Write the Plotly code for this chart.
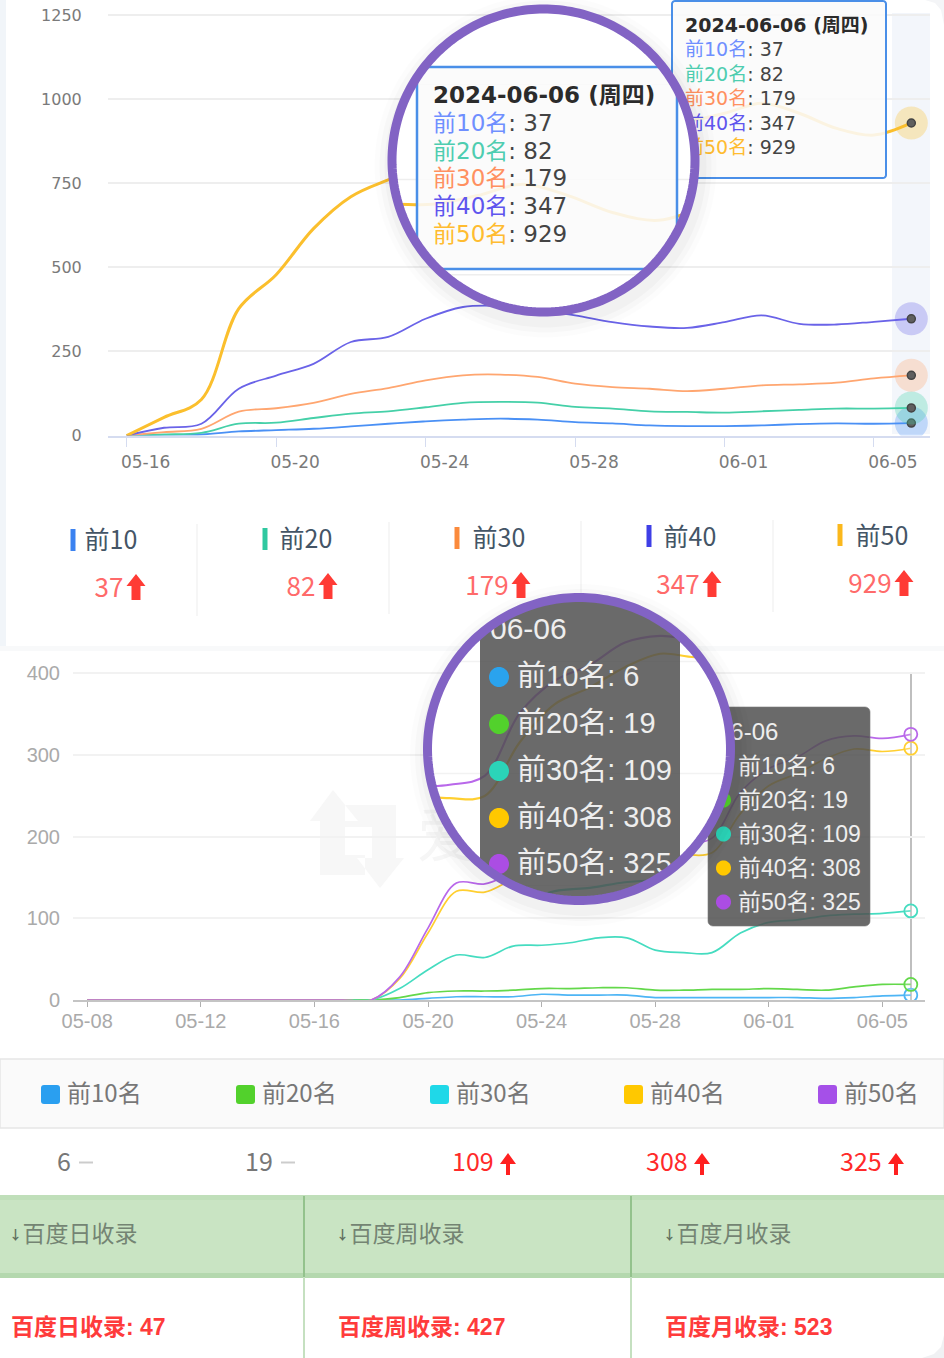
import math
import plotly.graph_objects as go

W, H = 944, 1358

# ---------- data, top chart ----------
top_dates = ["05-16","05-17","05-18","05-19","05-20","05-21","05-22","05-23","05-24","05-25","05-26",
             "05-27","05-28","05-29","05-30","05-31","06-01","06-02","06-03","06-04","06-05","06-06"]
top10 = [0, 2, 3, 12, 16, 20, 27, 35, 42, 47, 50, 47, 40, 36, 30, 28, 28, 30, 34, 36, 35, 37]
top20 = [0, 3, 8, 35, 38, 52, 65, 72, 84, 97, 100, 98, 85, 80, 72, 70, 68, 72, 76, 80, 80, 82]
top30 = [0, 10, 20, 71, 81, 97, 124, 141, 164, 179, 181, 174, 154, 144, 139, 132, 139, 149, 152, 157, 170, 179]
top40 = [0, 23, 35, 139, 178, 213, 278, 293, 347, 382, 385, 372, 357, 337, 324, 320, 337, 357, 332, 330, 338, 347]
top50 = [0, 54, 107, 377, 478, 615, 710, 760, 800, 830, 860, 890, 900, 920, 935, 935, 958, 988, 958, 913, 893, 929]
top_ticks = ["05-16", "05-20", "05-24", "05-28", "06-01", "06-05"]
top_yticks = [0, 250, 500, 750, 1000, 1250]
top_names = ["前10名", "前20名", "前30名", "前40名", "前50名"]
top_colors = ["#4a90f5", "#45d0a8", "#ffa670", "#6a63e8", "#fbbf2d"]
top_text_colors = ["#6f8fff", "#4ecdb0", "#ff9060", "#5f55ee", "#ffbc30"]
top_last = [37, 82, 179, 347, 929]
top_legend = ["前10", "前20", "前30", "前40", "前50"]
tip_title_top = "2024-06-06 (周四)"

# ---------- data, lower chart ----------
low_dates = ["05-08","05-09","05-10","05-11","05-12","05-13","05-14","05-15","05-16","05-17","05-18",
             "05-19","05-20","05-21","05-22","05-23","05-24","05-25","05-26","05-27","05-28","05-29",
             "05-30","05-31","06-01","06-02","06-03","06-04","06-05","06-06"]
low10 = [0,0,0,0,0,0,0,0,0,0,0, 0, 2, 4, 4, 4, 7, 6, 6, 6, 3, 3, 3, 3, 3, 3, 2, 3, 5, 6]
low20 = [0,0,0,0,0,0,0,0,0,0,0, 3, 9, 11, 11, 12, 14, 14, 15, 15, 12, 12, 13, 13, 14, 13, 12, 16, 19, 19]
low30 = [0,0,0,0,0,0,0,0,0,0,0, 14, 37, 55, 52, 66, 67, 70, 76, 76, 61, 58, 58, 82, 95, 98, 103, 105, 106, 109]
low40 = [0,0,0,0,0,0,0,0,0,0,0, 26, 82, 133, 132, 148, 160, 168, 175, 178, 180, 178, 180, 228, 262, 277, 295, 307, 304, 308]
low50 = [0,0,0,0,0,0,0,0,0,0,0, 28, 88, 143, 142, 155, 165, 172, 180, 186, 188, 190, 198, 254, 283, 297, 317, 323, 320, 325]
low_ticks = ["05-08", "05-12", "05-16", "05-20", "05-24", "05-28", "06-01", "06-05"]
low_yticks = [0, 100, 200, 300, 400]
low_colors = ["#4db5f5", "#63d84a", "#45dcc0", "#ffcf30", "#b968ea"]
low_dot_colors = ["#2aa3ee", "#52d12c", "#2bd4b8", "#ffc800", "#ab4de3"]
low_names = ["前10名", "前20名", "前30名", "前40名", "前50名"]
low_last = [6, 19, 109, 308, 325]
low_swatch = ["#2a9ff0", "#52d12c", "#1fd8e8", "#ffc800", "#a550e8"]
tip_title_low = "06-06"

# ---------- data, table ----------
table_heads = ["↓百度日收录", "↓百度周收录", "↓百度月收录"]
table_cells = ["百度日收录: 47", "百度周收录: 427", "百度月收录: 523"]

CJK = "Noto Sans CJK SC"
NARROW = f"Liberation Sans Narrow, {CJK}"
DJ = f"DejaVu Sans, {CJK}"
LIB = f"Liberation Sans, {CJK}"

TOP_Y0, TOP_K = 435.5, 420.5 / 1250
LOW_Y0, LOW_K = 1000, 0.8175
TOP_YMAX, LOW_YMAX = 1255, 402


def px(x):
    return x / W


def py(y):
    return 1 - y / H


fig = go.Figure()
layout = dict(
    width=W, height=H, margin=dict(l=0, r=0, t=0, b=0, pad=0, autoexpand=False), showlegend=False, hovermode=False,
    paper_bgcolor="white", plot_bgcolor="rgba(0,0,0,0)",
)
shapes = []


def hidden_axes(n, xr, yr, xdom=(0, 1), ydom=(0, 1)):
    layout[f"xaxis{n}"] = dict(domain=list(xdom), range=list(xr), visible=False, anchor=f"y{n}", fixedrange=True)
    layout[f"yaxis{n}"] = dict(domain=list(ydom), range=list(yr), visible=False, anchor=f"x{n}", fixedrange=True)


# top chart axes
layout["xaxis"] = dict(domain=[px(108), px(930)], type="linear", range=[-0.5, 21.5], anchor="y", fixedrange=True,
                       tickmode="array", tickvals=[top_dates.index(t) for t in top_ticks], ticktext=top_ticks,
                       ticklabelshift=19, ticks="outside", ticklen=10, tickcolor="#d5dcf0", showgrid=False,
                       showline=True, linecolor="#d5dcf0", linewidth=1.5, zeroline=False,
                       tickfont=dict(family=DJ, size=17, color="#7a7a7a"))
layout["yaxis"] = dict(domain=[py(TOP_Y0), py(TOP_Y0 - TOP_YMAX * TOP_K)], range=[0, TOP_YMAX], anchor="x", fixedrange=True,
                       tickmode="array", tickvals=top_yticks, ticks="outside", ticklen=22,
                       tickcolor="rgba(0,0,0,0)", gridcolor="#eeeeee", gridwidth=1.5, zeroline=False,
                       tickfont=dict(family=DJ, size=16, color="#7a7a7a"))
# lower chart axes
layout["xaxis2"] = dict(domain=[px(73), px(925)], type="linear", range=[-0.5, 29.5], anchor="y2", fixedrange=True,
                        tickmode="array", tickvals=[low_dates.index(t) for t in low_ticks], ticktext=low_ticks,
                        ticks="outside", ticklen=5, tickcolor="#b0b0b0", showgrid=False, ticklabelstandoff=-3,
                        showline=True, linecolor="#c4c4c4", linewidth=1.5, zeroline=False,
                        tickfont=dict(family=LIB, size=20, color="#aaaaaa"))
layout["yaxis2"] = dict(domain=[py(LOW_Y0), py(LOW_Y0 - LOW_YMAX * LOW_K)], range=[0, LOW_YMAX], anchor="x2", fixedrange=True,
                        tickmode="array", tickvals=low_yticks, ticks="outside", ticklen=8,
                        tickcolor="rgba(0,0,0,0)", gridcolor="#f2f2f2", gridwidth=1.5, zeroline=False,
                        tickfont=dict(family=LIB, size=20, color="#aaaaaa"))
# pixel layers
hidden_axes(3, (0, W), (H, 0))
hidden_axes(8, (0, W), (H, 0))


# magnified copies of the charts: the same values through stretched axes
def top_mag_y(v):
    return 123 + ((TOP_Y0 - v * TOP_K) - 49) * 1.13


def low_mag_y(v):
    return 677 + ((LOW_Y0 - v * LOW_K) - 766) * 1.37


def top_mag_axes(n, a, b, t, bot):
    to_i = lambda m: ((672 + (m - 417) / 1.215) - 126) / 37.24
    to_v = lambda m: (TOP_Y0 - (49 + (m - 123) / 1.13)) / TOP_K
    hidden_axes(n, (to_i(a), to_i(b)), (to_v(bot), to_v(t)), (px(a), px(b)), (py(bot), py(t)))


def low_mag_axes(n, a, b, t, bot):
    to_i = lambda m: ((708 + (m - 480) / 1.235) - 87) / 28.4
    to_v = lambda m: (LOW_Y0 - (766 + (m - 677) / 1.37)) / LOW_K
    hidden_axes(n, (to_i(a), to_i(b)), (to_v(bot), to_v(t)), (px(a), px(b)), (py(bot), py(t)))


top_mag_axes(4, 398, 682, 68, 268)
low_mag_axes(5, 432, 681, 605, 895)
low_mag_axes(6, 432, 696, 605, 895)
low_mag_axes(7, 535, 655, 860, 893)


def text(n, x, y, s, size, color, family=CJK, pos="middle right", bold=False):
    fig.add_trace(go.Scatter(x=[x], y=[y + 2], mode="text", text=[f"<b>{s}</b>" if bold else s], textposition=pos,
                             textfont=dict(family=family, size=size, color=color),
                             xaxis=f"x{n}", yaxis=f"y{n}", cliponaxis=False))


def poly(n, xs, ys, fill, line=None, lw=0):
    fig.add_trace(go.Scatter(x=xs + xs[:1], y=ys + ys[:1], mode="lines", fill="toself", fillcolor=fill,
                             line=dict(color=line or "rgba(0,0,0,0)", width=lw, simplify=False),
                             xaxis=f"x{n}", yaxis=f"y{n}"))


def circle(cx, cy, r, k=180):
    a = [2 * math.pi * i / k for i in range(k)]
    return [cx + r * math.cos(t) for t in a], [cy + r * math.sin(t) for t in a]


def round_rect(x0, y0, x1, y1, r, k=6):
    xs, ys = [], []
    for cx, cy, a0 in ((x1 - r, y0 + r, -90), (x1 - r, y1 - r, 0), (x0 + r, y1 - r, 90), (x0 + r, y0 + r, 180)):
        for i in range(k + 1):
            t = math.radians(a0 + 90 * i / k)
            xs.append(cx + r * math.cos(t))
            ys.append(cy + r * math.sin(t))
    return xs, ys


def rect_in_circle(x0, y0, x1, y1, cx, cy, r, k=720):
    xs, ys = circle(cx, cy, r, k)
    return [min(max(x, x0), x1) for x in xs], [min(max(y, y0), y1) for y in ys]


def sh_rect(x0, y0, x1, y1, fill, line=None, lw=0, layer="below"):
    shapes.append(dict(type="rect", xref="paper", yref="paper", x0=px(x0), x1=px(x1), y0=py(y0), y1=py(y1),
                       fillcolor=fill, line=dict(color=line or "rgba(0,0,0,0)", width=lw), layer=layer))


def sh_path(pts, fill, layer="below"):
    d = "M " + " L ".join(f"{px(x):.5f} {py(y):.5f}" for x, y in pts) + " Z"
    shapes.append(dict(type="path", xref="paper", yref="paper", path=d, fillcolor=fill,
                       line=dict(width=0), layer=layer))


def arrow(cx, top, bot, w, s, head, color):
    sh_path([(cx, top), (cx + w / 2, top + head), (cx + s / 2, top + head), (cx + s / 2, bot),
             (cx - s / 2, bot), (cx - s / 2, top + head), (cx - w / 2, top + head)], color, layer="above")


# ---------- backgrounds ----------
sh_rect(0, 0, 6, 648, "#f1f5f9")
sh_rect(0, 646, 944, 651, "#f8f9fa")
sh_rect(892, 13, 930, 434, "#f3f6fb")
sh_path([(925, 0), (935, 3), (941, 10), (944, 25), (944, 0)], "#f4f5f7")
sh_path([(944, 1335), (941, 1347), (934, 1354), (922, 1358), (944, 1358)], "#f0f1f3")
# watermark
WM = "#f7f7f7"
sh_path([(333, 790), (358, 821), (345, 821), (345, 805), (396, 805), (396, 858), (404, 858), (380, 888), (357, 858),
         (372, 858), (372, 827), (345, 827), (345, 855), (365, 855), (365, 875), (320, 875), (320, 821), (310, 821)], WM)

# ---------- top legend ----------
bar_x = [73, 265, 457, 649, 840]
bar_y = [529, 528, 527, 525, 524]
lab_x = [111, 306, 499, 690, 882]
lab_y = [541, 540, 539, 538, 537]
val_x = [109, 301, 487, 678, 870]
val_y = [588, 587, 586, 585, 584]
arr_x = [136, 328, 521, 712, 904]
leg_bar = ["#3b82f0", "#2fc8a0", "#fb8a3c", "#3f3fe6", "#fbb81c"]
for i in range(5):
    sh_rect(bar_x[i] - 2.5, bar_y[i], bar_x[i] + 2.5, bar_y[i] + 22, leg_bar[i])
    text(3, lab_x[i], lab_y[i], top_legend[i], 25, "#445566", NARROW, "middle center")
    text(3, val_x[i], val_y[i], str(top_last[i]), 26, "#ff6a6a", NARROW, "middle center")
    arrow(arr_x[i], val_y[i] - 14, val_y[i] + 12, 19, 9, 12, "#ff3b35")
for x, y in zip([197, 389, 581, 773], [524, 522, 521, 520]):
    sh_rect(x - 0.5, y, x + 0.5, y + 92, "#eeeeee")

# ---------- lower legend rows ----------
sh_rect(0, 1059, 944, 1128, "#fafafa", "#e6e6e6", 1.5)
sw_x = [41, 236, 430, 624, 818]
val2_x = [57, 245, 452, 646, 840]
arr2_x = [508, 702, 896]
for i in range(5):
    a, b = sw_x[i], sw_x[i] + 19
    t, u = 1085, 1104
    r = 3
    d = (f"M {px(a + r)} {py(t)} L {px(b - r)} {py(t)} Q {px(b)} {py(t)} {px(b)} {py(t + r)} "
         f"L {px(b)} {py(u - r)} Q {px(b)} {py(u)} {px(b - r)} {py(u)} L {px(a + r)} {py(u)} "
         f"Q {px(a)} {py(u)} {px(a)} {py(u - r)} L {px(a)} {py(t + r)} Q {px(a)} {py(t)} {px(a + r)} {py(t)} Z")
    shapes.append(dict(type="path", xref="paper", yref="paper", path=d, fillcolor=low_swatch[i],
                       line=dict(width=0), layer="below"))
    text(3, sw_x[i] + 26, 1094, low_names[i], 24, "#777777", NARROW)
    col = "#ff2a2a" if i >= 2 else "#777777"
    text(3, val2_x[i], 1163, str(low_last[i]), 25, col, NARROW)
    if i < 2:
        dx = val2_x[i] + (22 if i == 0 else 36)
        sh_rect(dx, 1161.5, dx + 14, 1163.5, "#cccccc")
    else:
        arrow(arr2_x[i - 2], 1153, 1175, 16, 4, 11, "#ff2020")

# ---------- table ----------
sh_rect(0, 1196, 944, 1277, "#c9e4c3")
sh_rect(0, 1195, 944, 1200, "#c0dfba")
sh_rect(0, 1273, 944, 1278, "#b4d8ae")
for x in [304, 631]:
    sh_rect(x - 1, 1196, x + 1, 1277, "#93c28c")
    sh_rect(x - 1, 1277, x + 1, 1358, "#c5e0c0")
for x, h, c in zip([10, 337, 664], table_heads, table_cells):
    text(3, x + 5.5, 1234, h[0], 13, "#5f6f5e", NARROW, "middle center", bold=True)
    text(3, x + 12.5, 1234, h[1:], 23, "#748473", CJK)
    text(3, x + 1, 1327, c, 23, "#ff3b3b", f"Liberation Sans, {CJK}", bold=True)

# ---------- chart lines ----------
idx_top = list(range(len(top_dates)))
for series, c, lw in zip([top10, top20, top30, top40, top50], top_colors, [1.8, 1.8, 1.8, 1.8, 3]):
    fig.add_trace(go.Scatter(x=idx_top, y=series, mode="lines", line=dict(color=c, width=lw, shape="spline", smoothing=1)))
    fig.add_trace(go.Scatter(x=idx_top[-1:], y=series[-1:], mode="markers",
                             marker=dict(size=33, color=c, opacity=0.3, line=dict(width=0))))
    fig.add_trace(go.Scatter(x=idx_top[-1:], y=series[-1:], mode="markers",
                             marker=dict(size=8, color="#5f5f5f", line=dict(color="#444444", width=1.5))))
idx_low = list(range(len(low_dates)))
shapes.append(dict(type="line", xref="paper", yref="paper", x0=px(911), x1=px(911), y0=py(673), y1=py(1000),
                   line=dict(color="#aaaaaa", width=1.5), layer="below"))
for series, c in zip([low10, low20, low30, low40, low50], low_colors):
    fig.add_trace(go.Scatter(x=idx_low, y=series, mode="lines", xaxis="x2", yaxis="y2",
                             line=dict(color=c, width=1.7, shape="spline", smoothing=1)))
    fig.add_trace(go.Scatter(x=idx_low[-1:], y=series[-1:], mode="markers", xaxis="x2", yaxis="y2",
                             marker=dict(size=13, color="rgba(255,255,255,0.2)", line=dict(color=c, width=1.8))))

# ---------- plain tooltips (under the magnifiers) ----------
xs, ys = round_rect(672, 1, 886, 178, 3)
poly(3, xs, ys, "rgba(250,250,250,0.88)", "#4a8fe8", 2)
text(3, 685, 25, tip_title_top, 19, "#2b2b2b", DJ, bold=True)
for i, y in enumerate([49, 74, 98, 123, 147]):
    text(3, 685, y, f'<span style="color:{top_text_colors[i]}">{top_names[i]}</span>: {top_last[i]}', 19, "#444444", DJ)

xs, ys = round_rect(708, 707, 870, 926, 5)
poly(3, xs, ys, "rgba(80,80,80,0.85)", "rgba(120,120,120,0.6)", 1)
text(3, 717, 732, tip_title_low, 24, "#eeeeee", LIB)
for i, y in enumerate([766, 800, 834, 868, 902]):
    xs, ys = circle(723.5, y, 7.5, 40)
    poly(3, xs, ys, low_dot_colors[i])
    text(3, 738, y, f"{low_names[i]}: {low_last[i]}", 23, "#eeeeee", LIB)
text(3, 447, 840, "爱", 60, "#f6f6f6", CJK, "middle center")

# ---------- magnifier discs ----------
M1 = (543.5, 160.5)
M2 = (579, 749)
for (cx, cy) in (M1, M2):
    for r, a in ((171, 0.012), (166, 0.018), (161, 0.025)):
        xs, ys = circle(cx + 2, cy + 6, r)
        poly(3, xs, ys, f"rgba(0,0,0,{a})")
    xs, ys = circle(cx, cy, 152)
    poly(3, xs, ys, "white")


# gridlines seen through the lens, kept inside the disc
def lens_grid(vals, to_y, centre, color):
    cx, cy = centre
    for v in vals:
        y = to_y(v)
        if abs(y - cy) < 150:
            dx = math.sqrt(150 ** 2 - (y - cy) ** 2)
            fig.add_trace(go.Scatter(x=[cx - dx, cx + dx], y=[y, y], mode="lines", xaxis="x3", yaxis="y3",
                                     line=dict(color=color, width=1.5)))


lens_grid(top_yticks, top_mag_y, M1, "#eeeeee")
lens_grid(low_yticks, low_mag_y, M2, "#f2f2f2")

# ---------- magnified line copies ----------
fig.add_trace(go.Scatter(x=idx_top, y=top50, mode="lines", xaxis="x4", yaxis="y4",
                         line=dict(color=top_colors[4], width=3, shape="spline", smoothing=1)))
fig.add_trace(go.Scatter(x=idx_low, y=low50, mode="lines", xaxis="x5", yaxis="y5",
                         line=dict(color=low_colors[4], width=2.2, shape="spline", smoothing=1)))
fig.add_trace(go.Scatter(x=idx_low, y=low40, mode="lines", xaxis="x6", yaxis="y6",
                         line=dict(color=low_colors[3], width=2.2, shape="spline", smoothing=1)))
fig.add_trace(go.Scatter(x=idx_low, y=low30, mode="lines", xaxis="x7", yaxis="y7",
                         line=dict(color=low_colors[2], width=2.2, shape="spline", smoothing=1)))

# ---------- magnified tooltips and rings (top layer) ----------
xs, ys = rect_in_circle(417, 67, 677, 269, M1[0], M1[1], 151)
poly(8, xs, ys, "rgba(250,250,250,0.88)", "#4a8fe8", 2.5)
text(8, 433, 95, tip_title_top, 23, "#2b2b2b", DJ, bold=True)
for i, y in enumerate([123, 151, 178, 206, 234]):
    text(8, 433, y, f'<span style="color:{top_text_colors[i]}">{top_names[i]}</span>: {top_last[i]}', 23, "#444444", DJ)

xs, ys = rect_in_circle(480, 595, 680, 905, M2[0], M2[1], 151)
poly(8, xs, ys, "rgba(80,80,80,0.85)")
text(8, 490, 629, tip_title_low, 30, "#eeeeee", LIB)
for i, y in enumerate([677, 724, 771, 818, 864]):
    xs, ys = circle(499, y, 10, 40)
    poly(8, xs, ys, low_dot_colors[i])
    text(8, 517, y, f"{low_names[i]}: {low_last[i]}", 29, "#eeeeee", LIB)

for (cx, cy) in (M1, M2):
    xs, ys = circle(cx, cy, 151.5, 240)
    fig.add_trace(go.Scatter(x=xs + xs[:1], y=ys + ys[:1], mode="lines", xaxis="x8", yaxis="y8",
                             line=dict(color="#8263c4", width=9, simplify=False)))

fig.update_layout(**layout, shapes=shapes)
fig.write_html("out.html", config=dict(displayModeBar=False),
               post_script="document.body.style.margin='0';document.documentElement.style.overflow='hidden';")
